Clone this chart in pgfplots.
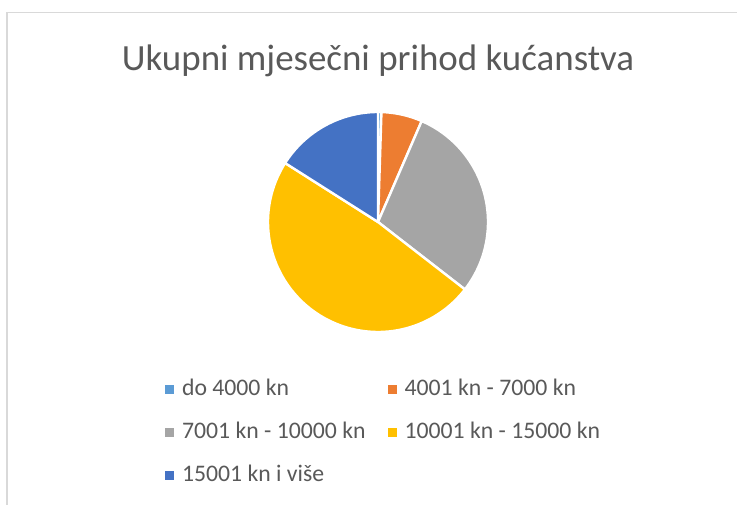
\documentclass[border=0pt]{standalone}
\usepackage{fontspec}
\setmainfont{Carlito}
\usepackage{pgfplots}
\pgfplotsset{compat=1.18}
\definecolor{cA}{HTML}{5B9BD5}
\definecolor{cB}{HTML}{ED7D31}
\definecolor{cC}{HTML}{A5A5A5}
\definecolor{cD}{HTML}{FFC000}
\definecolor{cE}{HTML}{4472C4}
\definecolor{txt}{HTML}{595959}
\definecolor{frame}{HTML}{D9D9D9}
% slice: start percent, value percent, colour
\newcommand{\pieslice}[3]{%
  \addplot[fill=#3, draw=white, line width=1.8pt, line join=round,
    domain={90-3.6*(#1+#2)}:{90-3.6*(#1)}, samples=80]
    ({cos(x)},{sin(x)}) -- (axis cs:0,0) -- cycle;}
\begin{document}
\begin{tikzpicture}[x=0.75pt,y=0.75pt]
\useasboundingbox (0,0) rectangle (737,505);
\fill[white] (0,0) rectangle (737,505);
\draw[frame, line width=1.2pt] (7,0) -- (7,492.5) -- (737,492.5);
\node[text=txt, font=\fontsize{27.7}{32}\selectfont] at (378,444) {Ukupni mjesečni prihod kućanstva};
\begin{axis}[
  at={(201pt,129.75pt)}, anchor=south west,
  width=165pt, height=165pt, scale only axis,
  xmin=-1, xmax=1, ymin=-1, ymax=1,
  hide axis, clip=false,
  legend columns=2,
  legend cell align=left,
  legend image code/.code={\path[#1,draw=none] (0pt,-3.375pt) rectangle (6.75pt,3.375pt);},
  legend style={draw=none, fill=none, inner sep=0pt, outer sep=0pt,
    at={(-0.468,-0.215)}, anchor=north west,
    font=\fontsize{17.8}{21}\selectfont, text=txt,
    nodes={inner sep=0pt, text height=12pt, text depth=3.5pt},
    row sep=16.8pt,
    /tikz/every odd column/.append style={column sep=6pt},
    /tikz/every even column/.append style={column sep=16.5pt}},
]
\pieslice{0}{0.5}{cA}
\addlegendentry{do 4000 kn}
\pieslice{0.5}{6}{cB}
\addlegendentry{4001 kn - 7000 kn}
\pieslice{6.5}{29}{cC}
\addlegendentry{7001 kn - 10000 kn}
\pieslice{35.5}{48.5}{cD}
\addlegendentry{10001 kn - 15000 kn}
\pieslice{84}{16}{cE}
\addlegendentry{15001 kn i više}
\end{axis}
\end{tikzpicture}
\end{document}
